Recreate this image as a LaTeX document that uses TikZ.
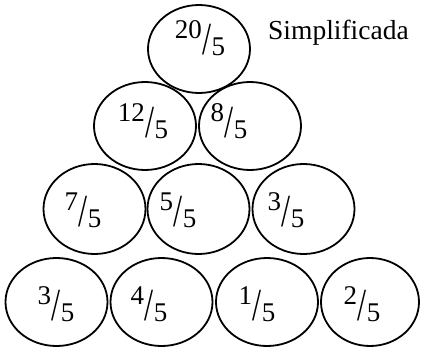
\documentclass[tikz,border=0pt]{standalone}
\usepackage{graphicx}
\usepackage{fontspec}
\setmainfont{Liberation Serif}
\usetikzlibrary{shapes.geometric}

\newcommand{\fracc}[2]{\raisebox{0.34em}{#1}\kern0.01em\raisebox{-0.28em}{\scalebox{1.2}[1.7]{/}}\kern0.01em\raisebox{-0.3em}{#2}}

\tikzset{
  bubble/.style={ellipse, draw, line width=1.8pt, minimum width=102pt, minimum height=88pt, inner sep=0pt},
  fraclab/.style={font=\fontsize{27}{29}\selectfont, inner sep=0pt}
}

\begin{document}
\begin{tikzpicture}[x=1pt, y=-1pt]
    \useasboundingbox (0,0) rectangle (421,348);

    % Fila superior
    \node[bubble] (e20) at (199,49) {};
    \node[fraclab] (t20) at (200,38) {\fracc{20}{5}};
    \node[font=\fontsize{27.5}{30}\selectfont, anchor=base west, inner sep=0pt] (simp) at (268,39) {Simplificada};

    % Segunda fila
    \node[bubble] (e12) at (145,126) {};
    \node[bubble] (e8) at (250,126) {};
    \node[fraclab] (t12) at (143,121) {\fracc{12}{5}};
    \node[fraclab] (t8) at (229,121) {\fracc{8}{5}};

    % Tercera fila
    \node[bubble, minimum height=90pt] (e7) at (94.5,209) {};
    \node[bubble, minimum height=90pt] (e5) at (198.5,209) {};
    \node[bubble, minimum height=90pt] (e3a) at (303.5,209) {};
    \node[fraclab] (t7) at (83,210) {\fracc{7}{5}};
    \node[fraclab] (t5) at (178,210) {\fracc{5}{5}};
    \node[fraclab] (t3a) at (286,210) {\fracc{3}{5}};

    % Fila inferior
    \node[bubble] (e3b) at (56.5,302) {};
    \node[bubble] (e4) at (161.5,302) {};
    \node[bubble] (e1) at (267,302) {};
    \node[bubble, minimum width=98pt] (e2) at (370,302) {};
    \node[fraclab] (t3b) at (56,304) {\fracc{3}{5}};
    \node[fraclab] (t4) at (149,304) {\fracc{4}{5}};
    \node[fraclab] (t1) at (257,304) {\fracc{1}{5}};
    \node[fraclab] (t2) at (362,304) {\fracc{2}{5}};
\end{tikzpicture}
\end{document}
